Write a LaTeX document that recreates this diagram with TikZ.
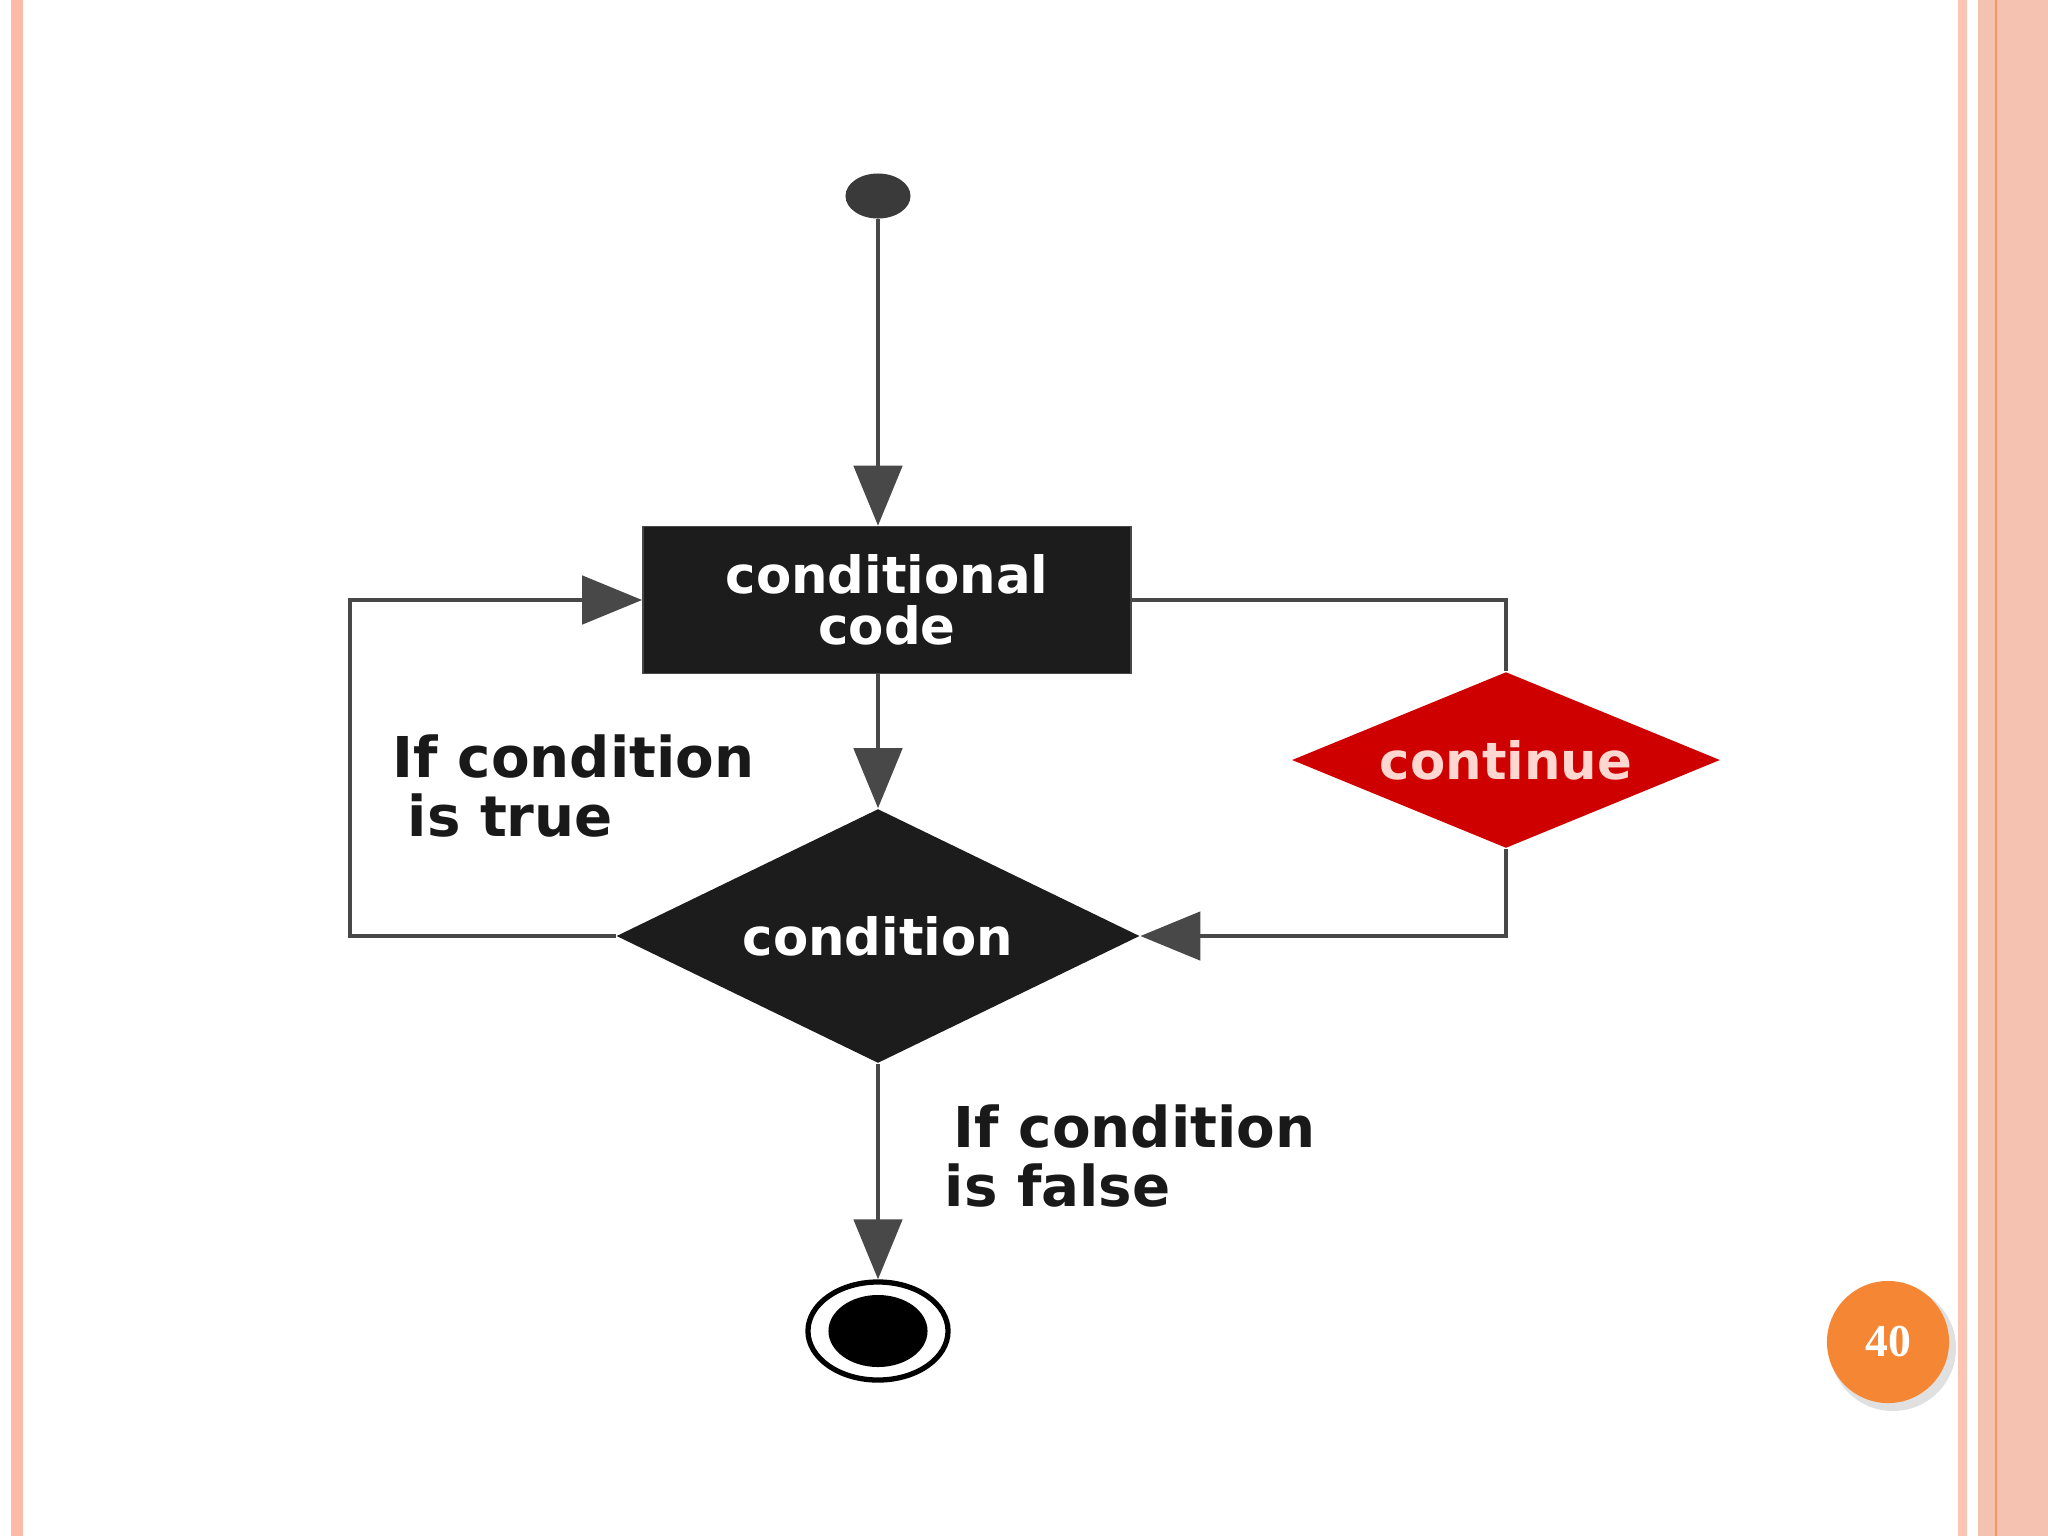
\documentclass[tikz,border=0pt]{standalone}
\usepackage{fontspec}
\newfontfamily\flowfont{DejaVu Sans}
\newfontfamily\numfont{Liberation Serif}
\usetikzlibrary{shapes,arrows.meta}
\definecolor{edgepink}{RGB}{252,187,166}
\definecolor{sidepink}{RGB}{245,194,178}
\definecolor{sideorange}{RGB}{245,150,95}
\definecolor{badge}{RGB}{245,134,52}
\definecolor{boxgray}{RGB}{28,28,28}
\definecolor{linegray}{RGB}{72,72,72}
\definecolor{stopred}{RGB}{206,0,0}
\definecolor{redtext}{RGB}{255,214,208}

\begin{document}
\begin{tikzpicture}[x=0.01cm,y=-0.01cm]
\tikzstyle{term}=[ellipse,inner sep=0pt];
\tikzstyle{act}=[draw=linegray,fill=boxgray,text=white,align=center,minimum width=4.88cm,minimum height=1.47cm,font=\flowfont\bfseries\fontsize{14.6}{14.5}\selectfont];
\tikzstyle{cond}=[diamond,inner sep=0pt,font=\flowfont\bfseries\fontsize{14.6}{14.5}\selectfont];
\tikzstyle{lab}=[align=left,inner sep=0pt,anchor=north west,text=black!90,font=\flowfont\bfseries\fontsize{16}{16.8}\selectfont];
\tikzstyle{dir}=[draw=linegray,line width=1.4pt,-{Triangle[length=0.6cm,width=0.48cm]}];
\tikzstyle{con}=[draw=linegray,line width=1.4pt];
\useasboundingbox (0,0) rectangle (2048,1536);
\fill [white] (0,0) rectangle (2048,1536);
\fill [edgepink] (11,0) rectangle (23,1536);
\fill [edgepink!85] (1958,0) rectangle (1967,1536);
\fill [sidepink] (1978,0) rectangle (1995,1536);
\fill [sideorange] (1995,0) rectangle (1997,1536);
\fill [sidepink] (1997,0) rectangle (2048,1536);
\node [term,fill=linegray!80!black,minimum width=0.65cm,minimum height=0.45cm] (v1) at (878,196) {};
\node [act] (v2) at (887,600) {conditional\\code};
\node [cond,aspect=2.06,fill=boxgray,text=white,minimum width=5.23cm,minimum height=2.54cm] (v3) at (878,936) {condition};
\node [cond,aspect=2.43,fill=stopred,text=redtext,minimum width=4.28cm,minimum height=1.76cm] (v5) at (1506,760) {continue};
\node [term,draw=black,line width=1.5pt,fill=white,minimum width=1.40cm,minimum height=0.98cm] (v7) at (878,1331) {};
\node [term,fill=black,minimum width=0.99cm,minimum height=0.72cm] (v8) at (878,1331) {};
\coordinate (c1) at (350,936);
\draw [dir] (v1) -- (v1 |- v2.north);
\draw [dir] (v3 |- v2.south) -- (v3.north);
\draw [dir] (v3.south) -- (v7.north);
\draw [dir] (v3.west) -- (c1) |- (v2.west);
\draw [con] (v2.east) -| (v5.north);
\draw [dir] (v5.south) |- (v3.east);
\node [lab] (t1) at (392,734) {If condition\\\hspace*{0.15cm}is true};
\node [lab] (t2) at (944,1104) {\hspace*{0.09cm}If condition\\is false};
\fill [black,opacity=0.12] (1893,1348) circle (0.63cm);
\node [circle,fill=badge,minimum size=1.22cm,inner sep=0pt,text=white,font=\numfont\bfseries\fontsize{13}{13}\selectfont] (p1) at (1888,1342) {40};
\end{tikzpicture}
\end{document}
